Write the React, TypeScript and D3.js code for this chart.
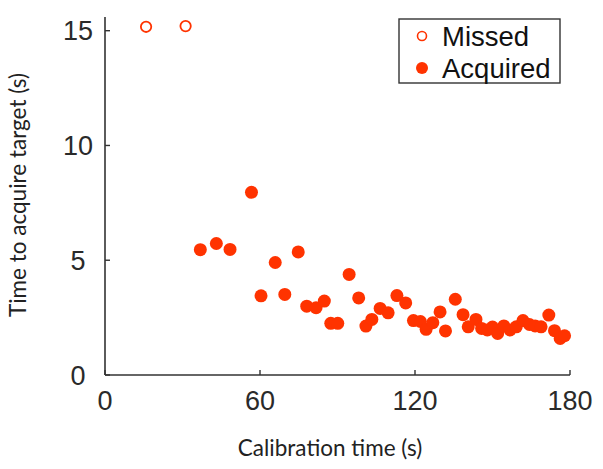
import React from "react";
import * as d3 from "d3";

const missedX = [15.9, 31.2];
const missedY = [15.17, 15.2];

const acquiredX = [36.9, 43.1, 48.4, 56.7, 60.4, 65.9, 69.6, 74.8, 78.1, 81.7, 84.9, 87.4, 90.1, 94.5, 98.2, 101.0, 103.3, 106.5, 109.6, 113.0, 116.4, 119.4, 122.1, 124.3, 126.9, 129.7, 131.8, 135.6, 138.6, 140.6, 143.6, 145.8, 148.0, 150.0, 152.0, 154.4, 156.8, 159.2, 161.8, 164.3, 166.5, 168.8, 171.8, 174.0, 176.2, 177.9];
const acquiredY = [5.46, 5.73, 5.47, 7.96, 3.45, 4.9, 3.51, 5.36, 3.0, 2.93, 3.22, 2.25, 2.25, 4.38, 3.36, 2.13, 2.42, 2.9, 2.71, 3.46, 3.14, 2.37, 2.33, 1.99, 2.28, 2.75, 1.92, 3.3, 2.63, 2.1, 2.42, 2.03, 1.96, 2.09, 1.81, 2.14, 1.96, 2.1, 2.37, 2.2, 2.14, 2.1, 2.61, 1.93, 1.59, 1.71];

const xTicks = [0, 60, 120, 180];
const yTicks = [0, 5, 10, 15];
const legendLabels = ["Missed", "Acquired"];
const xTitle = "Calibration time (s)";
const yTitle = "Time to acquire target (s)";

const COLOR = "#ff3300";
const AXIS = "#333333";

export default function App() {
  const x = d3.scaleLinear().domain([0, 180]).range([105, 570]);
  const y = d3.scaleLinear().domain([0, 15]).range([375, 30.7]);
  const yTop = y(15.6);
  const tickFont = "'Liberation Sans', Arial, Helvetica, sans-serif";
  const titleFont = "Lato, 'Open Sans', sans-serif";

  return (
    <svg width={603} height={469} style={{ position: "absolute", left: 0, top: 0, background: "#fff" }}>
      {/* axes */}
      <line x1={x(0)} x2={x(0)} y1={yTop} y2={y(0)} stroke={AXIS} strokeWidth={1.6} />
      <line x1={x(0)} x2={x(180)} y1={y(0)} y2={y(0)} stroke={AXIS} strokeWidth={1.6} />
      {yTicks.map((t) => (
        <g key={"y" + t}>
          <line x1={x(0)} x2={x(0) + 5} y1={y(t)} y2={y(t)} stroke={AXIS} strokeWidth={1.4} />
          <text x={78} y={y(t)} dy="0.36em" textAnchor="middle" fontFamily={tickFont} fontSize={27} fill="#2a2a2a">{t}</text>
        </g>
      ))}
      {xTicks.map((t) => (
        <g key={"x" + t}>
          <line x1={x(t)} x2={x(t)} y1={y(0)} y2={y(0) - 5} stroke={AXIS} strokeWidth={1.4} />
          <text x={x(t)} y={410} textAnchor="middle" fontFamily={tickFont} fontSize={27} fill="#2a2a2a">{t}</text>
        </g>
      ))}
      <text x={330} y={456} textAnchor="middle" fontFamily={titleFont} fontSize={22.5} fill="#222">{xTitle}</text>
      <text transform="translate(26,195) rotate(-90)" textAnchor="middle" fontFamily={titleFont} fontSize={22.5} fill="#222">{yTitle}</text>

      {/* data */}
      {missedX.map((v, i) => (
        <circle key={"m" + i} cx={x(v)} cy={y(missedY[i])} r={5.2} fill="#fff" stroke={COLOR} strokeWidth={1.8} />
      ))}
      {acquiredX.map((v, i) => (
        <circle key={"a" + i} cx={x(v)} cy={y(acquiredY[i])} r={6.5} fill={COLOR} />
      ))}

      {/* legend */}
      <rect x={399} y={19} width={161} height={64} fill="#fff" stroke={AXIS} strokeWidth={1.4} />
      <circle cx={422} cy={36} r={4.5} fill="#fff" stroke={COLOR} strokeWidth={1.6} />
      <circle cx={422} cy={68} r={6} fill={COLOR} />
      {legendLabels.map((l, i) => (
        <text key={l} x={442} y={36 + i * 32} dy="0.36em" fontFamily={tickFont} fontSize={27.5} fill="#111">{l}</text>
      ))}
    </svg>
  );
}
